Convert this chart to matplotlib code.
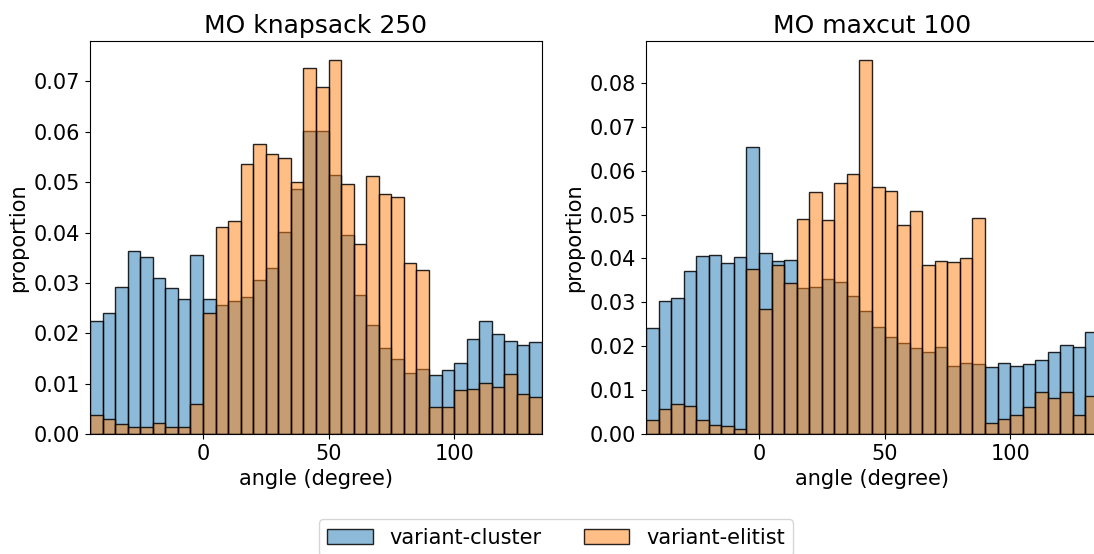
import numpy as np
import matplotlib.pyplot as plt
from matplotlib.colors import to_rgba

# bin edges: 5 degree bins from -45 to 135
bin_edges = np.arange(-45, 140, 5)

knapsack_cluster = [0.0224, 0.0241, 0.0292, 0.0363, 0.0351, 0.0309, 0.0289, 0.0268, 0.0355,
                    0.0268, 0.0257, 0.0264, 0.0271, 0.0305, 0.0330, 0.0401, 0.0487, 0.0602,
                    0.0601, 0.0515, 0.0396, 0.0276, 0.0217, 0.0170, 0.0149, 0.0121, 0.0129,
                    0.0118, 0.0127, 0.0141, 0.0189, 0.0225, 0.0199, 0.0184, 0.0176, 0.0182]
knapsack_elitist = [0.0038, 0.0030, 0.0019, 0.0014, 0.0014, 0.0022, 0.0014, 0.0014, 0.0059,
                    0.0241, 0.0411, 0.0422, 0.0536, 0.0576, 0.0555, 0.0547, 0.0500, 0.0726,
                    0.0689, 0.0743, 0.0496, 0.0377, 0.0513, 0.0476, 0.0471, 0.0339, 0.0326,
                    0.0054, 0.0054, 0.0088, 0.0090, 0.0101, 0.0093, 0.0119, 0.0080, 0.0074]

maxcut_cluster = [0.0242, 0.0303, 0.0309, 0.0372, 0.0405, 0.0407, 0.0389, 0.0403, 0.0653,
                  0.0412, 0.0395, 0.0397, 0.0332, 0.0336, 0.0354, 0.0346, 0.0314, 0.0280,
                  0.0244, 0.0221, 0.0208, 0.0196, 0.0186, 0.0199, 0.0156, 0.0162, 0.0159,
                  0.0152, 0.0162, 0.0154, 0.0160, 0.0168, 0.0186, 0.0203, 0.0199, 0.0233]
maxcut_elitist = [0.0033, 0.0056, 0.0069, 0.0064, 0.0033, 0.0021, 0.0018, 0.0011, 0.0377,
                  0.0285, 0.0386, 0.0344, 0.0489, 0.0551, 0.0487, 0.0573, 0.0593, 0.0853,
                  0.0562, 0.0554, 0.0476, 0.0508, 0.0386, 0.0394, 0.0391, 0.0400, 0.0492,
                  0.0024, 0.0034, 0.0044, 0.0062, 0.0095, 0.0081, 0.0095, 0.0044, 0.0086]

titles = ["MO knapsack 250", "MO maxcut 100"]
series_names = ["variant-cluster", "variant-elitist"]
colors = ["#1f77b4", "#ff7f0e"]

panels = [(knapsack_cluster, knapsack_elitist), (maxcut_cluster, maxcut_elitist)]

W, H = 1094, 554
fig = plt.figure(figsize=(W / 100, H / 100), dpi=100)
axes = [fig.add_axes([90 / W, 1 - 434 / H, 452 / W, 393 / H]),
        fig.add_axes([646 / W, 1 - 434 / H, 452 / W, 393 / H])]

for ax, title, series in zip(axes, titles, panels):
    for vals, name, c in zip(series, series_names, colors):
        ax.hist(bin_edges[:-1], bins=bin_edges, weights=vals,
                facecolor=to_rgba(c, 0.5), edgecolor=(0, 0, 0, 0.85),
                linewidth=1, label=name)
    top = max(max(s) for s in series)
    ax.set_xlim(-45, 135)
    ax.set_ylim(0, top * 1.05)
    ax.set_xticks([0, 50, 100])
    ax.set_title(title, fontsize=18)
    ax.set_xlabel("angle (degree)", fontsize=15)
    ax.set_ylabel("proportion", fontsize=15)
    ax.tick_params(labelsize=15)

handles, labels = axes[0].get_legend_handles_labels()
fig.legend(handles, labels, loc="upper center", bbox_to_anchor=(556 / W, 1 - 509 / H),
           ncol=2, fontsize=15, frameon=True, columnspacing=2.0, handlelength=2.2)

plt.savefig("out.png", dpi=100)
